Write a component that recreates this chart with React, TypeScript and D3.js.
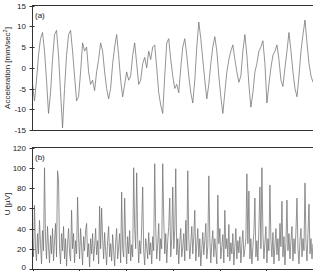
import * as d3 from "d3";

// acceleration trace (a), evenly sampled over the time axis
const accel = [
  -4, -8, -3, 3, 7, 8.5, 4, -3, -11, -6, 2, 8, 9, 3, -6, -14.5, -5, 3, 8, 9,
  4, -2, -8, -7, -1, 6, 4, 5, -1, -4, -3, -5.5, -1, 2, 6, 4, -1, -5, -7.5, -5,
  1, 5, 8, 3, -3, -7, -4, -1, -3, -2, 3, 6, 1, -4, -3, 1, 2.5, 0, 4, 2,
  5, 5.5, 0, -6, -9, -11, -2, 6, 7, 2, -2, -5, -4, -6, 0, 5, 7, 3, -2, -6,
  -8.5, -3, 5, 11, 7, 2, -3, -7.5, -4, 1, 5, 7.5, 4, -2, -7, -11, -6, -1, 2, 4,
  5.5, 2, -1, -3.5, -2, 4, 8, 3, -4, -9.5, -6, -1, 1, 4, 5, 6.5, 1, -8.5, -4, 0,
  3, 4, 5.5, 2, -3, -4.5, 0, 4, 8.5, 4, -1, -5, -7, -2, 4, 8, 11.5, 6, 1, -2,
  -3.5,
];

// EMG amplitude trace (b)
const emg = [
  30, 12, 63, 20, 8, 35, 15, 48, 25, 5, 38, 18, 100, 30, 10, 42, 22, 6, 33, 15,
  40, 8, 28, 45, 12, 97, 88, 20, 5, 35, 18, 42, 10, 30, 3, 25, 40, 15, 8, 58,
  20, 35, 6, 28, 15, 71, 30, 10, 40, 22, 4, 32, 18, 38, 45, 12, 25, 2, 30, 15,
  35, 8, 22, 40, 14, 28, 5, 62, 20, 60, 30, 10, 36, 18, 4, 28, 42, 12, 25, 8,
  34, 18, 3, 26, 40, 10, 22, 35, 6, 76, 20, 12, 70, 28, 5, 32, 15, 38, 8, 24,
  12, 100, 40, 20, 95, 30, 6, 28, 15, 42, 81, 18, 4, 30, 22, 10, 36, 14, 26, 5,
  32, 18, 104, 40, 10, 25, 45, 8, 30, 20, 104, 50, 15, 35, 6, 28, 42, 70, 12, 30,
  81, 20, 38, 99, 14, 30, 5, 26, 40, 12, 22, 35, 8, 48, 18, 97, 30, 10, 25, 42,
  15, 32, 58, 8, 24, 40, 12, 30, 3, 20, 36, 14, 28, 45, 10, 22, 92, 30, 6, 26,
  38, 12, 30, 18, 5, 73, 25, 40, 10, 22, 34, 6, 58, 20, 30, 12, 44, 8, 26, 15,
  35, 4, 22, 40, 10, 28, 16, 32, 6, 24, 38, 12, 20, 30, 94, 25, 77, 10, 30, 5,
  22, 36, 70, 12, 28, 8, 40, 81, 20, 100, 35, 10, 26, 42, 6, 30, 18, 83, 28, 12,
  36, 5, 24, 40, 14, 30, 8, 45, 22, 67, 12, 32, 4, 26, 68, 18, 35, 10, 28, 42,
  8, 30, 15, 38, 70, 20, 5, 28, 40, 12, 30, 18, 85, 25, 8, 35, 64, 15, 30, 10,
  25,
];

const accelTicks = [-15, -10, -5, 0, 5, 10, 15];
const emgTicks = [0, 20, 40, 60, 80, 100, 120];
const timeTicks = [0, 1, 2, 3, 4, 5, 6];
const tMax = 6;

const W = 313;
const H = 271;
const left = 32.5;
const font = "Liberation Sans, Arial, sans-serif";

export default function App() {
  const x = d3.scaleLinear().domain([0, tMax]).range([left, W]);
  const yA = d3.scaleLinear().domain([-15, 15]).range([130, 5.5]);
  const yB = d3.scaleLinear().domain([0, 120]).range([269, 147.5]);

  const lineA = d3
    .line<number>()
    .x((_, i) => x((i * tMax) / (accel.length - 1)))
    .y((d) => yA(d));
  const lineB = d3
    .line<number>()
    .x((_, i) => x((i * tMax) / (emg.length - 1)))
    .y((d) => yB(d));

  const axisColor = "#333";
  const traceColor = "#707070";

  const yAxis = (scale: d3.ScaleLinear<number, number>, ticks: number[]) =>
    ticks.map((t) => (
      <g key={t} transform={`translate(0,${Math.round(scale(t)) + 0.5})`}>
        <line x1={left - 3} x2={left + 2} stroke={axisColor} strokeWidth={1} />
        <text
          x={26}
          dy={Math.round(scale(t)) > 266 ? "0.05em" : "0.33em"}
          textAnchor="end"
          fontSize={8}
          fill="#222"
          fontFamily={font}
        >
          {t}
        </text>
      </g>
    ));

  return (
    <svg width={W} height={H} style={{ position: "absolute", left: 0, top: 0 }}>
      <rect width={W} height={H} fill="#fff" />

      {/* panel (a) */}
      <path d={lineA(accel) ?? ""} fill="none" stroke={traceColor} strokeWidth={0.75} />
      <line x1={left} x2={W} y1={5.5} y2={5.5} stroke={axisColor} />
      <line x1={left} x2={W} y1={130.5} y2={130.5} stroke={axisColor} />
      <line x1={left} x2={left} y1={5} y2={131} stroke={axisColor} />
      {yAxis(yA, accelTicks)}
      <text x={35} y={18} fontSize={8} fill="#222" fontFamily={font}>
        (a)
      </text>
      <text
        transform="translate(10,68) rotate(-90)"
        textAnchor="middle"
        fontSize={8}
        fill="#222"
        fontFamily={font}
      >
        Acceleration [mm/sec<tspan dy="-3" fontSize={5.5}>2</tspan>
        <tspan dy="3">]</tspan>
      </text>

      {/* panel (b) */}
      <path d={lineB(emg) ?? ""} fill="none" stroke={traceColor} strokeWidth={0.75} />
      <line x1={left} x2={W} y1={147.5} y2={147.5} stroke={axisColor} />
      <line x1={left} x2={W} y1={269.5} y2={269.5} stroke={axisColor} />
      <line x1={left} x2={left} y1={147} y2={270} stroke={axisColor} />
      {yAxis(yB, emgTicks)}
      {timeTicks.map((t) => (
        <line
          key={t}
          x1={Math.round(x(t)) + 0.5}
          x2={Math.round(x(t)) + 0.5}
          y1={269}
          y2={272}
          stroke={axisColor}
        />
      ))}
      <text x={35} y={160} fontSize={8} fill="#222" fontFamily={font}>
        (b)
      </text>
      <text
        transform="translate(10,204) rotate(-90)"
        textAnchor="middle"
        fontSize={8}
        fill="#222"
        fontFamily={font}
      >
        U [µV]
      </text>
    </svg>
  );
}
